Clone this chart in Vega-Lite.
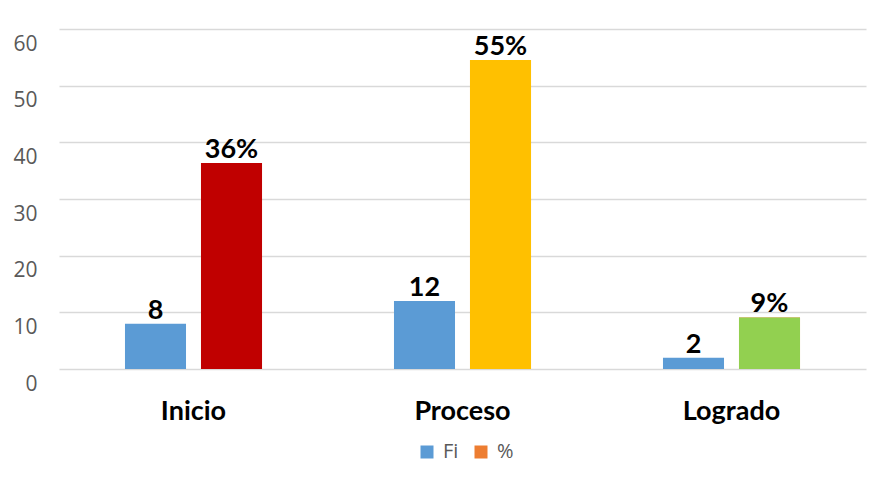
{
  "$schema": "https://vega.github.io/schema/vega-lite/v6.json",
  "width": 807,
  "height": 340,
  "autosize": {"type": "none"},
  "padding": {"left": 59, "top": 29, "right": 21, "bottom": 115},
  "background": "white",
  "config": {"view": {"stroke": null}, "font": "Lato"},
  "data": {
    "values": [
      {"categoria": "Inicio", "serie": "Fi", "valor": 8, "etiqueta": "8"},
      {"categoria": "Inicio", "serie": "%", "valor": 36.36, "etiqueta": "36%"},
      {"categoria": "Proceso", "serie": "Fi", "valor": 12, "etiqueta": "12"},
      {"categoria": "Proceso", "serie": "%", "valor": 54.55, "etiqueta": "55%"},
      {"categoria": "Logrado", "serie": "Fi", "valor": 2, "etiqueta": "2"},
      {"categoria": "Logrado", "serie": "%", "valor": 9.09, "etiqueta": "9%"}
    ]
  },
  "encoding": {
    "x": {
      "field": "categoria",
      "type": "nominal",
      "sort": ["Inicio", "Proceso", "Logrado"],
      "scale": {"paddingInner": 0, "paddingOuter": 0},
      "axis": {
        "title": null,
        "labelAngle": 0,
        "labelFontSize": 27,
        "labelFontWeight": "bold",
        "labelColor": "#000000",
        "ticks": false,
        "domain": false,
        "labelPadding": 29
      }
    },
    "xOffset": {
      "field": "serie",
      "type": "nominal",
      "sort": ["Fi", "%"],
      "scale": {"paddingInner": 0.197, "paddingOuter": 0.868}
    },
    "y": {
      "field": "valor",
      "type": "quantitative",
      "scale": {"domain": [0, 60], "nice": false},
      "axis": {
        "title": null,
        "values": [0, 10, 20, 30, 40, 50, 60],
        "grid": true,
        "gridColor": "#d9d9d9",
        "gridWidth": 1.5,
        "domain": false,
        "ticks": false,
        "labelFont": "Open Sans",
        "labelFontSize": 21,
        "labelColor": "#595959",
        "labelPadding": 22,
        "labelOffset": 15
      }
    }
  },
  "layer": [
    {
      "mark": {"type": "bar"},
      "encoding": {
        "color": {
          "field": "serie",
          "type": "nominal",
          "scale": {"domain": ["Fi", "%"], "range": ["#5B9BD5", "#ED7D31"]},
          "legend": {
            "title": null,
            "orient": "none",
            "legendX": 358,
            "legendY": 413,
            "direction": "horizontal",
            "symbolType": "square",
            "symbolSize": 169,
            "symbolStrokeWidth": 0,
            "labelFontSize": 20,
            "labelColor": "#595959",
            "labelFont": "Open Sans",
            "columnPadding": 12,
            "labelOffset": 6
          }
        }
      }
    },
    {
      "transform": [{"filter": "datum.serie === '%'"}],
      "mark": {"type": "bar"},
      "encoding": {
        "color": {
          "field": "categoria",
          "type": "nominal",
          "scale": {"domain": ["Inicio", "Proceso", "Logrado"], "range": ["#C00000", "#FFC000", "#92D050"]},
          "legend": null
        }
      }
    },
    {
      "mark": {"type": "text", "fontSize": 27, "fontWeight": "bold", "baseline": "alphabetic", "dy": -5, "color": "#000000"},
      "encoding": {"text": {"field": "etiqueta"}}
    }
  ],
  "resolve": {"scale": {"color": "independent"}}
}
